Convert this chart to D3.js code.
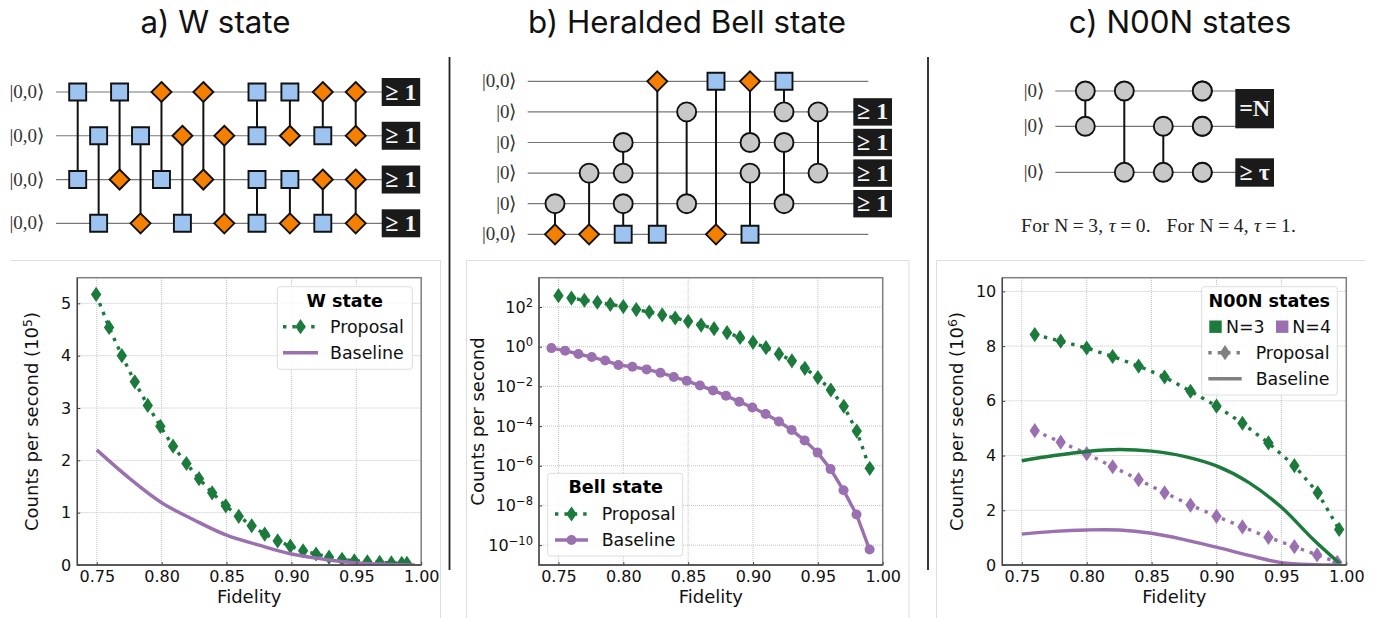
<!DOCTYPE html>
<html lang="en">
<head>
<meta charset="UTF-8">
<title>W, Bell and N00N states</title>
<script src="https://d3js.org/d3.v7.min.js"></script>
<style>
    html, body { margin: 0; background: #fff; }
    svg { display: block; }
    .title { font: 31.3px Inter, sans-serif; fill: #111; text-anchor: middle; }
    .axis text { font: 16px "DejaVu Sans", sans-serif; fill: #111; }
    .axis path { display: none; }
    .axis line { stroke: #444; stroke-width: 1; }
    .label { font: 18px "DejaVu Sans", sans-serif; fill: #111; text-anchor: middle; }
    .grid line { stroke: #c4c4c4; stroke-width: 1; stroke-dasharray: 1 1; }
    .legend-title { font: bold 17.6px "DejaVu Sans", sans-serif; fill: #000; text-anchor: middle; }
    .legend-text { font: 17.4px "DejaVu Sans", sans-serif; fill: #111; }
    .ket { font: 19px "Liberation Serif", serif; fill: #333; text-anchor: end; }
    .detector { font: 24px "Liberation Serif", serif; font-weight: bold; fill: #f4f4f4; text-anchor: middle; }
</style>
</head>
<body>
<div id="chart"></div>
<script>
const GREEN = "#1b7a3c", PURPLE = "#9b70b0", GRAY = "#808080";

// panel a
const wProposalX = [.7495,.7595,.7693,.7793,.7893,.799,.8088,.8191,.8288,.8389,.8494,.8594,.8694,.8794,.8894,.8992,.909,.919,.929,.939,.9485,.9585,.968,.977,.985,.989];
const wProposalY = [5.17,4.54,4.0,3.5,3.05,2.65,2.27,1.94,1.65,1.38,1.13,.93,.75,.59,.46,.36,.27,.21,.15,.11,.08,.06,.05,.04,.03,.03];
const wBaselineX = [.75,.775,.80,.825,.85,.875,.90,.925,.95,.975,.995];
const wBaselineY = [2.2,1.66,1.19,.86,.57,.38,.21,.11,.04,.012,.003];
const wTicksY = [0,1,2,3,4,5];

// panel b
const bellProposalX = [.75,.76,.77,.78,.79,.80,.81,.82,.83,.84,.85,.86,.87,.88,.89,.90,.91,.92,.93,.94,.95,.96,.97,.98,.99];
const bellProposalY = [372,282,219,174,135,105,74,56,40,28,19,12.3,8.1,5.1,2.95,1.66,.89,.43,.195,.081,.028,6.6e-3,1e-3,5.6e-5,7.4e-7];
const bellBaselineX = [.7446,.7551,.7654,.7757,.786,.7962,.807,.818,.8286,.8389,.8489,.8591,.8692,.8792,.8894,.8995,.9097,.92,.9298,.9398,.9498,.9598,.9698,.9798,.9899];
const bellBaselineY = [.85,.63,.43,.30,.20,.12,.098,.072,.049,.030,.019,.011,6.3e-3,3.4e-3,1.7e-3,8.7e-4,4.1e-4,1.7e-4,6.3e-5,1.9e-5,4.6e-6,6.8e-7,5.8e-8,3.5e-9,6e-11];
const bellTicksY = [1e2,1e0,1e-2,1e-4,1e-6,1e-8,1e-10];

// panel c
const n3ProposalX = [.76,.78,.80,.82,.84,.86,.88,.90,.92,.94,.96,.978,.9945];
const n3ProposalY = [8.42,8.18,7.93,7.62,7.27,6.87,6.35,5.81,5.18,4.46,3.63,2.64,1.30];
const n4ProposalX = [.76,.78,.80,.82,.84,.86,.88,.90,.92,.94,.96,.9775,.993];
const n4ProposalY = [4.91,4.49,4.07,3.59,3.12,2.64,2.19,1.78,1.39,1.01,.67,.37,.1];
const noonBaselineX = [.75,.775,.80,.825,.85,.875,.90,.925,.95,.975,.995];
const n3BaselineY = [3.81,4.0,4.15,4.22,4.16,3.97,3.62,3.01,2.11,.91,.05];
const n4BaselineY = [1.13,1.23,1.28,1.28,1.16,.93,.65,.35,.085,.01,0];
const noonTicksY = [0,2,4,6,8,10];

const fidelityTicks = [.75,.80,.85,.90,.95,1.00];

// circuits: [column, wire, kind, wire, kind]  s=square d=diamond c=circle
const wGates = [
    [0,0,"s",2,"s"],[1,1,"s",3,"s"],[2,0,"s",2,"d"],[3,1,"s",3,"d"],
    [4,0,"d",2,"s"],[5,1,"d",3,"s"],[6,0,"d",2,"d"],[7,1,"d",3,"d"],
    [8,0,"s",1,"s"],[8,2,"s",3,"s"],[9,0,"s",1,"d"],[9,2,"s",3,"d"],
    [10,0,"d",1,"s"],[10,2,"d",3,"s"],[11,0,"d",1,"d"],[11,2,"d",3,"d"]
];
const wKets = ["|0,0⟩","|0,0⟩","|0,0⟩","|0,0⟩"];
const bellGates = [
    [0,4,"c",5,"d"],[1,3,"c",5,"d"],[2,2,"c",3,"c"],[2,4,"c",5,"s"],
    [3,0,"d",5,"s"],[4,1,"c",4,"c"],[5,0,"s",5,"d"],[6,0,"d",2,"c"],
    [6,3,"c",5,"s"],[7,0,"s",1,"c"],[7,2,"c",4,"c"],[8,1,"c",3,"c"]
];
const bellKets = ["|0,0⟩","|0⟩","|0⟩","|0⟩","|0⟩","|0,0⟩"];
const noonGates = [[0,0,"c",1,"c"],[1,0,"c",2,"c"],[2,1,"c",2,"c"],[3,0,"c",0,"c"],[3,1,"c",1,"c"],[3,2,"c",2,"c"]];
const noonKets = ["|0⟩","|0⟩","|0⟩"];

const svg = d3.select("#chart").append("svg").attr("width", 1378).attr("height", 618);

function diamondPath(w, h) { return `M0,${-h}L${w},0L0,${h}L${-w},0Z`; }

function circlePath(r) {
    return d3.arc()({ innerRadius: 0, outerRadius: r, startAngle: 0, endAngle: 2 * Math.PI });
}

function addTitle(text, x) {
    svg.append("text").attr("class", "title").attr("x", x).attr("y", 33).text(text);
}

function drawCircuit(o) {
    const g = svg.append("g");
    const x = d3.scaleLinear().domain(o.colDomain).range(o.colRange);
    const y = d3.scaleLinear().domain(o.wireDomain).range(o.wireRange);

    g.selectAll(".wire").data(o.kets).join("line")
        .attr("x1", o.wireStart).attr("x2", (d, i) => o.wireEnds[i])
        .attr("y1", (d, i) => y(i)).attr("y2", (d, i) => y(i))
        .attr("stroke", "#777").attr("stroke-width", 1.2);

    g.selectAll(".ket").data(o.kets).join("text").attr("class", "ket")
        .attr("x", o.ketX).attr("y", (d, i) => y(i) + 6).text(d => d);

    g.selectAll(".link").data(o.gates).join("line")
        .attr("x1", d => x(d[0])).attr("x2", d => x(d[0]))
        .attr("y1", d => y(d[1])).attr("y2", d => y(d[3]))
        .attr("stroke", "#111").attr("stroke-width", 2);

    const nodes = o.gates.flatMap(d => [
        { col: d[0], wire: d[1], kind: d[2] },
        { col: d[0], wire: d[3], kind: d[4] }
    ]);
    g.selectAll(".gate").data(nodes).join("path")
        .attr("transform", d => `translate(${x(d.col)},${y(d.wire)})`)
        .attr("d", d => {
            if (d.kind === "s") return "M-8.5,-8.5H8.5V8.5H-8.5Z";
            if (d.kind === "d") return diamondPath(10, 10);
            return circlePath(9.5);
        })
        .attr("fill", d => d.kind === "s" ? "#9dc3f0" : d.kind === "d" ? "#f57f00" : "#c8c8c8")
        .attr("stroke", "#111").attr("stroke-width", 1.9);
    return { g, y };
}

function detector(g, x, y, w, h, label) {
    g.append("rect").attr("x", x).attr("y", y).attr("width", w).attr("height", h).attr("fill", "#1a1a1a");
    g.append("text").attr("class", "detector").attr("x", x + w / 2).attr("y", y + h / 2 + 7.5).text(label);
}

function addPanel(o) {
    const g = svg.append("g");
    const x = d3.scaleLinear().domain([.735, 1]).range([o.left, o.right]);
    const y = o.log
        ? d3.scaleLog().domain(o.yDomain).range([565, 277.7])
        : d3.scaleLinear().domain(o.yDomain).range([565, 277.7]);

    g.append("g").attr("class", "grid").selectAll("line").data(fidelityTicks).join("line")
        .attr("x1", d => x(d)).attr("x2", d => x(d)).attr("y1", 565).attr("y2", 277.7);
    g.append("g").attr("class", "grid").selectAll("line").data(o.ticksY).join("line")
        .attr("x1", o.left).attr("x2", o.right).attr("y1", d => y(d)).attr("y2", d => y(d));

    const clipId = "clip-" + o.id;
    svg.append("clipPath").attr("id", clipId).append("rect")
        .attr("x", o.left).attr("y", 277.7).attr("width", o.right - o.left).attr("height", 287.3);
    const plot = g.append("g").attr("clip-path", `url(#${clipId})`);

    const line = d3.line().x(d => x(d[0])).y(d => y(d[1]));
    o.series.forEach(s => {
        const pts = d3.zip(s.xs, s.ys);
        line.curve(s.curve || d3.curveLinear);
        plot.append("path").attr("d", line(pts)).attr("fill", "none").attr("stroke", s.color)
            .attr("stroke-width", 3.4).attr("stroke-dasharray", s.dash || null)
            .attr("stroke-linejoin", "round");
        if (s.marker) {
            plot.selectAll(null).data(pts).join("path")
                .attr("transform", d => `translate(${x(d[0])},${y(d[1])})`)
                .attr("d", s.marker === "thin" ? diamondPath(5.2, 7.6) : circlePath(5))
                .attr("fill", s.color);
        }
    });

    // frame
    g.append("rect").attr("x", o.left).attr("y", 277.7).attr("width", o.right - o.left).attr("height", 287.3)
        .attr("fill", "none").attr("stroke", "#808080").attr("stroke-width", 1.5);
    g.append("path").attr("d", `M${o.left},277.7V565H${o.right}`)
        .attr("fill", "none").attr("stroke", "#444").attr("stroke-width", 1.3);

    g.append("g").attr("class", "axis").attr("transform", "translate(0,565)")
        .call(d3.axisBottom(x).tickValues(fidelityTicks).tickFormat(d3.format(".2f")).tickSizeInner(-3).tickSizeOuter(0).tickPadding(6));

    const yAxis = g.append("g").attr("class", "axis").attr("transform", `translate(${o.left},0)`)
        .call(d3.axisLeft(y).tickValues(o.ticksY).tickSizeInner(-3).tickSizeOuter(0).tickPadding(6)
            .tickFormat(o.log ? "" : d3.format("d")));
    if (o.log) {
        yAxis.selectAll(".tick text").each(function (d) {
            const t = d3.select(this).text("10");
            const e = Math.round(Math.log10(d));
            t.append("tspan").attr("dy", -6).style("font-size", "11.5px").text(String(e).replace("-", "\u2212"));
        });
    }

    g.append("text").attr("class", "label").attr("x", (o.left + o.right) / 2).attr("y", 603).text("Fidelity");
    const yl = g.append("text").attr("class", "label")
        .attr("transform", `translate(${o.yLabelX},421.5) rotate(-90)`).text("Counts per second" + (o.exp ? " (10" : ""));
    if (o.exp) {
        yl.append("tspan").attr("dy", -6.5).style("font-size", "12.5px").text(o.exp);
        yl.append("tspan").attr("dy", 6.5).text(")");
    }
}

function legendBox(x0, y0, w, h, title, cx) {
    const g = svg.append("g");
    g.append("rect").attr("x", x0).attr("y", y0).attr("width", w).attr("height", h).attr("rx", 3)
        .attr("fill", "#fff").attr("fill-opacity", .85).attr("stroke", "#ddd");
    g.append("text").attr("class", "legend-title").attr("x", cx).attr("y", y0 + 20).text(title);
    return g;
}

function legendLine(g, x1, x2, y, color, dash, marker) {
    g.append("line").attr("x1", x1).attr("x2", x2).attr("y1", y).attr("y2", y)
        .attr("stroke", color).attr("stroke-width", 3.4).attr("stroke-dasharray", dash || null);
    if (marker) {
        g.append("path").attr("transform", `translate(${(x1 + x2) / 2},${y})`).attr("fill", color)
            .attr("d", marker === "thin" ? diamondPath(5.2, 7.6) : circlePath(5));
    }
}

function legendText(g, x, y, text) {
    g.append("text").attr("class", "legend-text").attr("x", x).attr("y", y + 6).text(text);
}

// titles and panel separators
addTitle("a) W state", 215.5);
addTitle("b) Heralded Bell state", 687);
addTitle("c) N00N states", 1180);

[449.5, 928].forEach(x => svg.append("line").attr("x1", x).attr("x2", x).attr("y1", 57).attr("y2", 570)
    .attr("stroke", "#222").attr("stroke-width", 1.8));
svg.append("path").attr("fill", "none").attr("stroke", "#ddd")
    .attr("d", "M11,260.5H440.5V618M466.5,618V260.5H909V618M936.5,618V260.5H1365");

// circuit a
const wCircuit = drawCircuit({
    gates: wGates, kets: wKets, ketX: 44,
    colDomain: [0, 7, 8, 11], colRange: [77.7, 224.3, 257, 355.7],
    wireDomain: [0, 3], wireRange: [92, 223.3],
    wireStart: 56, wireEnds: [382, 382, 382, 382]
});
wKets.forEach((d, i) => detector(wCircuit.g, 381.7, wCircuit.y(i) - 14, 38.5, 28, "≥ 1"));

// circuit b
const bellCircuit = drawCircuit({
    gates: bellGates, kets: bellKets, ketX: 516.5,
    colDomain: [0, 3, 5, 8], colRange: [555, 657.3, 716, 818],
    wireDomain: [0, 5], wireRange: [81.3, 234.3],
    wireStart: 527.7, wireEnds: [868.3, 854, 854, 854, 854, 868.3]
});
[1, 2, 3, 4].forEach(i => detector(bellCircuit.g, 853.3, bellCircuit.y(i) - 13.7, 38.7, 27.4, "≥ 1"));

// circuit c
const noonCircuit = drawCircuit({
    gates: noonGates, kets: noonKets, ketX: 1044,
    colDomain: [0, 3], colRange: [1085.3, 1202.3],
    wireDomain: [0, 1, 2], wireRange: [91, 126.3, 172.3],
    wireStart: 1055.3, wireEnds: [1236, 1236, 1236]
});
detector(noonCircuit.g, 1235.3, 89, 38.7, 39.3, "=N");
detector(noonCircuit.g, 1235.3, 158.3, 38.7, 28.4, "≥ τ");
const noonNote = svg.append("text").attr("x", 1021).attr("y", 232)
    .style("font", '19.5px "Liberation Serif", serif').style("fill", "#222")
    .style("white-space", "pre").style("letter-spacing", "0.3px");
noonNote.text("For N\u2009=\u20093, ");
noonNote.append("tspan").style("font-style", "italic").text("τ");
noonNote.append("tspan").text("\u2009=\u20090.   For N\u2009=\u20094, ");
noonNote.append("tspan").style("font-style", "italic").text("τ");
noonNote.append("tspan").text("\u2009=\u20091.");

// charts
addPanel({
    id: "w", left: 77.3, right: 421.2, yDomain: [0, 5.49], ticksY: wTicksY, yLabelX: 38, exp: "5",
    series: [
        { xs: wProposalX, ys: wProposalY, color: GREEN, dash: "3.4 6", marker: "thin" },
        { xs: wBaselineX, ys: wBaselineY, color: PURPLE, curve: d3.curveCatmullRom }
    ]
});
const wLegend = legendBox(277.3, 286.7, 135, 82.6, "W state", 344.7);
legendLine(wLegend, 283, 318, 326.7, GREEN, "3.4 6", "thin");
legendLine(wLegend, 283, 318, 352.7, PURPLE);
legendText(wLegend, 330, 326.7, "Proposal");
legendText(wLegend, 330, 352.7, "Baseline");

addPanel({
    id: "bell", left: 539, right: 882.7, log: true, yDomain: [1e-11, 3e3], ticksY: bellTicksY, yLabelX: 484,
    series: [
        { xs: bellProposalX, ys: bellProposalY, color: GREEN, dash: "3.4 6", marker: "thin" },
        { xs: bellBaselineX, ys: bellBaselineY, color: PURPLE, marker: "circle" }
    ]
});
const bellLegend = legendBox(547.7, 473.3, 135, 82.7, "Bell state", 615.7);
legendLine(bellLegend, 555, 588, 514, GREEN, "3.4 6", "thin");
legendLine(bellLegend, 555, 588, 540, PURPLE, null, "circle");
legendText(bellLegend, 601.7, 514, "Proposal");
legendText(bellLegend, 601.7, 540, "Baseline");

addPanel({
    id: "noon", left: 1002.3, right: 1346.3, yDomain: [0, 10.5], ticksY: noonTicksY, yLabelX: 963, exp: "6",
    series: [
        { xs: n3ProposalX, ys: n3ProposalY, color: GREEN, dash: "3.4 6", marker: "thin" },
        { xs: n4ProposalX, ys: n4ProposalY, color: PURPLE, dash: "3.4 6", marker: "thin" },
        { xs: noonBaselineX, ys: n3BaselineY, color: GREEN, curve: d3.curveCatmullRom },
        { xs: noonBaselineX, ys: n4BaselineY, color: PURPLE, curve: d3.curveCatmullRom }
    ]
});
const noonLegend = legendBox(1201.7, 286.7, 135.6, 108.3, "N00N states", 1269.3);
noonLegend.append("rect").attr("x", 1209.3).attr("y", 320.5).attr("width", 12.4).attr("height", 12.4).attr("fill", GREEN);
noonLegend.append("rect").attr("x", 1276).attr("y", 320.5).attr("width", 12.4).attr("height", 12.4).attr("fill", PURPLE);
legendText(noonLegend, 1226, 326.7, "N=3");
legendText(noonLegend, 1292.3, 326.7, "N=4");
legendLine(noonLegend, 1208.3, 1241.7, 352.7, GRAY, "3.4 6", "thin");
legendLine(noonLegend, 1208.3, 1241.7, 378.7, GRAY);
legendText(noonLegend, 1255.7, 352.7, "Proposal");
legendText(noonLegend, 1255.7, 378.7, "Baseline");
</script>
</body>
</html>
